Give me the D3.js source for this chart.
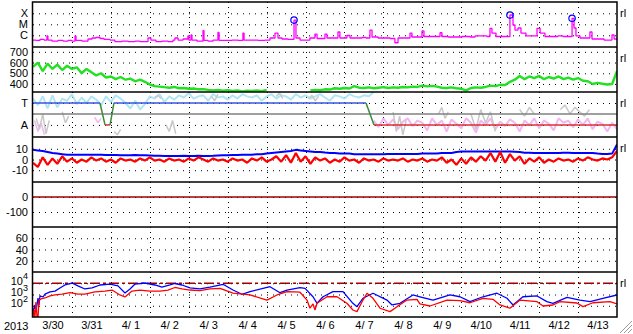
<!DOCTYPE html>
<html>
<head>
<meta charset="utf-8">
<script src="https://cdn.jsdelivr.net/npm/d3@7"></script>
<style>
  body { margin: 0; background: #fff; }
  text { font-family: 'Liberation Sans', Arial, sans-serif; font-size: 11px; fill: #000; }
</style>
</head>
<body>
<div id="chart"></div>
<script>
// ---- data (hours counted from 2013-03-30 00:00 UT) ----
const yearLabel = '2013'

// GOES x-ray flux, W/m2
const xrayHours = [0,1.8,4.3,6.8,8.6,9.2,11.7,15.4,18.5,21.6,24,25.9,26.5,30.2,33.9,36.4,38.8,41.3,43.8,47.5,50.5,54.8,58.6,62.9,66,70.9,72.7,75.8,79.5,83.2,86.3,87.5,89.4,92.5,95.5,96.1,97.4,98,101.1,104.8,105.4,107.9,111,114,114.7,118.3,122.7,126.4,129.4,130.1,133.8,138.7,143,146.1,149.2,151,153.5,157.2,159.6,160.9,162.1,164.6,167.7,170.7,173.8,175.1,178.1,180,181.2,184.9,188,189.2,193.5,195.4,199.1,202.8,205.3,207.7,209,212.7,217,220.1,223.1,225,228.7,232.4,233.6,237.3,239.8,241,244.7,248.4,250.9,252.1,255.8,260.1,264.4,269.4,272.5,276.8,279.8,281.7,282.9,285.4,289.1,292.2,294,295.9,297.1,299,300.8,303.9,307.6,310.7,312.6,315.6,319.9,323.6,326.7,329.8,332.3,333.5,334.7,337.2,340.9,343.3,344.6,348.3,352,355.7,356.9,358.2,360]
const xrayFlux = [3.7e-7,3.4e-7,4.2e-7,3.7e-7,8.7e-7,3.7e-7,3.0e-7,3.4e-7,3.0e-7,3.4e-7,3.0e-7,8.7e-7,3.4e-7,3.0e-7,4.6e-7,5.7e-7,6.3e-7,5.1e-7,4.2e-7,3.7e-7,2.7e-7,3.0e-7,2.7e-7,3.0e-7,2.7e-7,5.7e-7,3.7e-7,2.7e-7,3.0e-7,2.7e-7,3.7e-7,5.7e-7,3.7e-7,4.6e-7,8.7e-7,3.7e-7,1.07e-6,3.7e-7,3.0e-7,2.7e-6,3.4e-7,3.0e-7,3.7e-7,1.8e-6,3.4e-7,3.4e-7,3.7e-7,3.4e-7,1.6e-6,3.7e-7,3.7e-7,3.4e-7,3.7e-7,5.7e-7,1.6e-6,5.7e-7,4.6e-7,4.2e-7,4.2e-7,2.4e-5,5.7e-7,3.7e-7,3.7e-7,5.7e-7,1.3e-6,5.1e-7,5.1e-7,1.3e-6,5.7e-7,5.7e-7,2.0e-6,5.7e-7,9.6e-7,5.7e-7,5.7e-7,6.3e-7,5.7e-7,3.0e-6,7.0e-7,5.7e-7,5.7e-7,5.1e-7,2.1e-7,5.7e-7,5.7e-7,1.6e-6,7.0e-7,7.0e-7,2.5e-6,7.8e-7,7.8e-7,7.8e-7,1.7e-6,7.8e-7,7.0e-7,7.0e-7,7.8e-7,7.0e-7,8.7e-7,8.7e-7,7.8e-7,4.3e-6,1.6e-6,7.8e-7,7.8e-7,7.5e-7,7.0e-5,8.6e-6,3.0e-6,4.6e-6,1.6e-6,8.7e-7,8.7e-7,4.3e-6,1.6e-6,7.8e-7,7.8e-7,8.7e-7,7.8e-7,7.8e-7,3.5e-5,4.6e-6,8.7e-7,5.7e-7,5.7e-7,2.0e-6,4.6e-7,4.6e-7,3.7e-7,3.7e-7,1.07e-6,4.6e-7,5.7e-7]
const flareHours = [160.9, 294, 332.3]
const flareFlux = [2.4e-5, 7.0e-5, 3.5e-5]
const xrayTicks = [1e-4, 1e-5, 1e-6]
const xrayTickLabels = ['X', 'M', 'C']

// solar wind speed, km/s, every 3 hours (null = no data)
const speed = [560,600,520,590,540,580,530,570,540,555,
  500,540,510,480,500,460,470,445,465,440,
  450,425,440,420,395,380,375,370,365,372,
  360,362,355,358,350,352,345,340,345,338,
  342,335,340,330,338,335,340,332,345,
  null,null,null,null,null,null,null,null,
  340,345,342,350,348,360,355,362,358,380,
  365,362,368,360,365,370,362,368,365,372,
  368,375,372,385,378,382,375,365,362,368,
  360,355,340,362,368,365,372,385,380,392,
  390,420,440,475,445,470,455,475,445,465,
  450,470,445,460,440,455,430,425,400,410,
  402,395,400,520]
const speedTicks = [700, 600, 500, 400]

// status panel (A = 0, T = 1)
const statusHours = [0, 41.3, 44.4, 47.5, 49.9, 205.3, 210.2, 360]
const statusLevel = [1, 1, 0, 0, 1, 1, 0, 0]
const statusTicks = [1, 0]
const statusTickLabels = ['T', 'A']
const cyanLevel = [1.2,0.9,1.3,0.75,1.35,0.8,1.2,1.1,1.4,0.95,1.25,1.0,1.3,1.15,0.9,1.3,1.05,1.35,1.2,1.0,0.75,1.1,0.7,0.95,1.3,1.2,1.4,1.05,1.3,1.15,1.35,1.25,1.45,1.2,1.3,1.35,1.1,1.4,1.25,1.3,1.15,1.35,1.2,1.4,1.3,1.25,1.35,1.1,1.3,1.4,1.2,1.35,1.3,1.15,1.4,1.25,1.35,1.2,1.3,1.4,1.25,1.1,1.35,1.3,1.2,1.4,1.3,1.25,1.35,1.3,1.5]
const pinkStartHour = 210
const pinkLevel = [0.2,-0.1,0.3,0.0,0.25,-0.2,0.15,0.3,-0.05,0.2,0.1,-0.25,0.3,0.0,0.2,-0.3,0.25,0.05,-0.15,0.3,0.1,-0.35,0.2,0.0,0.3,-0.2,0.15,-0.05,0.25,0.1,-0.3,0.2,0.0,0.3,-0.15,0.2,0.05,-0.25,0.3,0.1,0.2,-0.1,0.25,0.0,0.3,-0.2,0.15,0.05,-0.3,0.1,-0.2]
const pinkBitsHours = [1,3,5,7,9,38,40,42,44]
const pinkBitsLevel = [0.2,-0.3,0.1,-0.45,null,0.35,0.1,0.3,null]
const grayHours = [2,4,6,8,10,12,18,20,22,24,50,52,54,56,75,77,79,81,82,84,86,88,90,110,112,114,116,150,152,154,156,170,172,174,176,178,222,224,226,228,230,232,250,252,254,256,258,270,273,276,279,282,285,287,300,303,306,309,311,325,328,331,334,337,340,343,345]
const grayLevel = [0.3,-0.2,0.5,-0.4,0.2,null,0.6,0.1,0.4,null,-0.3,-0.45,-0.2,null,1.25,1.35,1.2,null,0.0,-0.3,0.2,-0.4,null,1.3,1.1,1.4,null,1.3,1.45,1.2,null,1.2,1.35,1.1,1.3,null,0.6,-0.3,0.4,-0.45,0.2,null,0.5,0.8,0.3,0.6,null,0.5,-0.2,0.7,0.1,0.6,-0.3,null,0.7,0.4,0.8,0.5,null,0.7,0.9,0.5,0.8,0.6,0.4,0.7,null]

// magnetic field, nT, every 3 hours
const bt = [9,8.5,8,7,6,5.5,5,4.5,4.5,4.5,
  4.5,4.5,4.5,4.5,4.5,4.3,4.3,4.3,4,4,
  4,4.3,4,4,3.8,3.5,3.5,3.3,3.3,3.3,
  3.3,3.5,3.3,3.3,3.5,3.3,3.3,3.5,3.8,4,
  4,4.3,4.3,4.5,4.5,4.5,5,5,5.5,6,
  6.5,7,7.5,8,9,8.5,8,7.5,7,7,
  6.5,6,6,5.5,5.5,5.5,5,5,5,5,
  5,5,5,5.2,5.2,5.2,5.2,5.2,5.2,5.2,
  5.5,5.5,5.5,5.5,6,6,6,7,7.4,7.4,
  7.4,7.4,7.4,7.4,7.4,7.4,7.4,7.4,7.4,7.2,
  7,6.2,6.2,6,6,6,6,6,6,6.2,
  6.2,6,6,6,6,6,5.5,5.2,5.2,5.5,
  14]
const bz = [-3,-7,2,-5,1,-4,3,-2,1,-3,
  0,-2,2,-1,1,-2,0,-3,1,-1,
  0,-2,1,-1,2,-1,0,-2,1,-1,
  0,-2,1,-1,2,0,-2,1,-1,0,
  -2,1,-1,0,-3,1,-1,2,-2,0,
  3,-2,4,-3,6,-2,3,-4,2,-1,
  1,-3,0,-2,2,-1,0,-3,1,-1,
  0,-2,1,-1,0,-1,1,-2,0,-1,
  1,-2,0,-1,2,-3,0,-5,1,-4,
  2,-2,3,-1,6,-2,7,-3,5,-1,
  3,-4,1,-2,2,-3,0,-2,1,-1,
  0,-2,1,-1,2,0,-1,1,0,2,
  8]
const bTicks = [10, 0, -10]

const dstTicks = [0, -100]
const kpTicks = [60, 40, 20]

// electron flux
const eHighHours = [0,1.2,1.8,3.1,3.7,4.3,6.2,7.4,10.5,13.6,16.6,19.7,24,27.7,32,36.4,41.3,47.5,52.4,56.7,59.8,62.9,69,75.2,79.5,84.4,87.5,91.8,96.8,102.9,109.1,117.1,123.3,128.8,133.8,146.1,152.3,156.6,164.6,167.7,172.6,175.1,178.8,184.9,191.1,197.2,199.7,203.4,209.6,218.2,221.3,226.2,234.2,238.5,246.6,257,263.2,269.4,277.4,286,292.2,295.9,302,310.7,316.8,320.5,329.2,337.2,343.4,351.3,360]
const eHigh = [28,117,28,490,117,740,600,1100,1700,2000,3800,7000,10500,5800,3100,3800,7000,8500,5800,1350,3100,8500,10500,7000,4600,7000,9500,7000,3800,3100,4600,8100,2500,1050,1800,4900,1450,2500,4000,3500,630,165,630,1800,1800,165,83,460,1300,320,117,165,910,630,320,910,630,230,630,1300,460,117,630,740,230,165,560,320,230,460,910]
const eLowHours = [0,0.6,1.2,1.8,2.5,3.1,3.7,4.9,7.4,10.5,13.6,17.9,22.8,27.7,32,38.2,44.4,48.7,53.6,56.7,61,65.9,72.1,78.3,83.2,87.5,91.8,96.8,102.9,109.1,115.3,123.3,133.8,144.2,150.4,156.6,164.6,168.9,170.7,172.6,173.8,175.1,181.2,187.4,193.5,197.2,199.7,203.4,205.9,209.6,213.9,220.1,224.4,230.5,236.7,238.5,244.7,255.2,263.2,269.4,277.4,283.5,287.9,294,300.2,310.7,314.4,320.5,324.8,335.3,339,345.2,355.7,360]
const eLow = [10,42,10,215,10,10,320,400,490,740,910,1100,1450,1100,1100,1700,2000,2500,910,600,2000,2500,2000,2000,2500,4200,3100,2500,2200,3100,3500,1300,910,320,910,1800,1600,320,60,145,42,165,630,630,165,42,30,320,1300,460,60,30,83,320,370,145,95,320,280,185,460,370,117,60,320,230,95,117,230,175,83,185,230,145]
const eTicks = [1e4, 1e3, 1e2]
const eThreshold = 1e4

// ---- layout ----
const left = 33
const right = 617
const panelTops = [2, 47, 92, 137, 182, 227, 272]
const plotBottom = 317

const t0 = Date.UTC(2013, 2, 30)
const t1 = Date.UTC(2013, 3, 14)
const atHour = h => new Date(t0 + h * 3600e3)

const svg = d3
  .select('#chart')
  .append('svg')
  .attr('width', 633)
  .attr('height', 334)

const x = d3.scaleUtc().domain([t0, t1]).range([left, right])

const pTop = i => panelTops[i]
const pBot = i => (i < 6 ? panelTops[i + 1] : plotBottom)

const yXray = d3.scaleLog().domain([1e-7, 1e-3]).range([46.3, 2.3])
const ySpeed = d3.scaleLinear().domain([325, 745]).range([92, 47])
const yStatus = d3.scaleLinear().domain([-0.55, 1.5]).range([137, 92])
const yB = d3.scaleLinear().domain([-21, 21]).range([182, 137])
const yDst = d3.scaleLinear().domain([-200, 100]).range([227, 182])
const yKp = d3.scaleLinear().domain([0, 80]).range([272, 227])
const yE = d3.scaleLog().domain([10, 1e5]).range([317, 272])

// clip paths, one per panel
const defs = svg.append('defs')
panelTops.forEach((t, i) => {
  defs
    .append('clipPath')
    .attr('id', 'clip' + i)
    .append('rect')
    .attr('x', left)
    .attr('y', pTop(i))
    .attr('width', right - left)
    .attr('height', pBot(i) - pTop(i))
})

// vertical day grid
svg
  .append('g')
  .selectAll('line')
  .data(d3.utcDay.range(new Date(t0 + 864e5), new Date(t1)))
  .enter()
  .append('line')
  .attr('x1', d => Math.round(x(d)) + 0.5)
  .attr('x2', d => Math.round(x(d)) + 0.5)
  .attr('y1', 2)
  .attr('y2', plotBottom)
  .attr('stroke', '#000')
  .attr('stroke-dasharray', '1,4')

// y axes with dotted grid
function yAxis(scale, ticks, labels, size) {
  const axis = d3
    .axisLeft(scale)
    .tickValues(ticks)
    .tickSize(-(right - left))
    .tickPadding(5)
    .tickFormat((d, i) => (labels ? labels[i] : d))
  const g = svg
    .append('g')
    .attr('class', 'axis')
    .attr('transform', 'translate(' + left + ',0)')
    .call(axis)
  g.select('.domain').remove()
  g.selectAll('.tick line')
    .attr('stroke', '#000')
    .attr('stroke-dasharray', '1,5')
  g.selectAll('text')
    .attr('font-size', size || 11)
    .attr('font-family', "'Liberation Sans', Arial, sans-serif")
    .attr('fill', '#000')
  return g
}

yAxis(yXray, xrayTicks, xrayTickLabels)
yAxis(ySpeed, speedTicks, null, 9)
yAxis(yStatus, statusTicks, statusTickLabels)
yAxis(yB, bTicks, null, 9)
yAxis(yDst, dstTicks)
yAxis(yKp, kpTicks)
const eAxis = yAxis(yE, eTicks, eTicks.map(d => ''))
eAxis.selectAll('text').each(function(d) {
  const t = d3.select(this)
  t.append('tspan').text('10').attr('dy', '0.1em')
  t.append('tspan')
    .text(Math.round(Math.log10(d)))
    .attr('font-size', 9)
    .attr('dy', '-0.6em')
})

// helpers
const fromSteps = (vals, h0, step) => vals.map((v, i) => ({ t: atHour(h0 + i * step), v }))
const fromPairs = (hours, vals) => hours.map((h, i) => ({ t: atHour(h), v: vals[i] }))

function drawLine(data, yScale, panel, color, width, curve) {
  const line = d3
    .line()
    .defined(d => d.v !== null)
    .x(d => x(d.t))
    .y(d => yScale(d.v))
    .curve(curve || d3.curveLinear)
  svg
    .append('path')
    .datum(data)
    .attr('d', line)
    .attr('clip-path', 'url(#clip' + panel + ')')
    .attr('fill', 'none')
    .attr('stroke', color)
    .attr('stroke-width', width)
    .attr('stroke-linejoin', 'bevel')
}

function refLine(yScale, value, color, width, dash) {
  svg
    .append('line')
    .attr('x1', left)
    .attr('x2', right)
    .attr('y1', yScale(value))
    .attr('y2', yScale(value))
    .attr('stroke', color)
    .attr('stroke-width', width)
    .attr('stroke-dasharray', dash || null)
}

// panel 1: x-ray
drawLine(fromPairs(xrayHours, xrayFlux), yXray, 0, '#ff00ff', 1.3, d3.curveStepAfter)
svg
  .append('g')
  .selectAll('circle')
  .data(fromPairs(flareHours, flareFlux))
  .enter()
  .append('circle')
  .attr('cx', d => x(d.t))
  .attr('cy', d => yXray(d.v))
  .attr('r', 3.2)
  .attr('fill', 'none')
  .attr('stroke', '#0000ff')
  .attr('stroke-width', 1.2)

// panel 2: speed
drawLine(fromSteps(speed, 0, 3), ySpeed, 1, '#22e022', 2.4)

// panel 3: status
drawLine(fromSteps(cyanLevel, 0, 3), yStatus, 2, '#aee6f6', 2)
drawLine(fromSteps(pinkLevel, pinkStartHour, 3), yStatus, 2, '#f3b6f3', 2)
drawLine(fromPairs(pinkBitsHours, pinkBitsLevel), yStatus, 2, '#f3b6f3', 1.5)
drawLine(fromPairs(grayHours, grayLevel), yStatus, 2, '#c8c8c8', 1.5)
refLine(yStatus, 0.5, '#808080', 1.5)
const status = fromPairs(statusHours, statusLevel)
svg
  .append('g')
  .selectAll('line')
  .data(status.slice(1).map((d, i) => [status[i], d]))
  .enter()
  .append('line')
  .attr('x1', d => x(d[0].t))
  .attr('x2', d => x(d[1].t))
  .attr('y1', d => yStatus(d[0].v))
  .attr('y2', d => yStatus(d[1].v))
  .attr('stroke', d =>
    d[0].v !== d[1].v ? '#3a8a3a' : d[0].v === 1 ? '#3a55e0' : '#d83030'
  )
  .attr('stroke-width', 1.5)

// panel 4: magnetic field
drawLine(fromSteps(bt, 0, 3), yB, 3, '#0000ff', 2)
drawLine(fromSteps(bz, 0, 3), yB, 3, '#ff0000', 2.2)

// panel 5: reference at zero
refLine(yDst, 0, '#a00000', 1.5)

// panel 7: electrons
refLine(yE, eThreshold, '#a00000', 1.5, '10,3,3,3')
drawLine(fromPairs(eHighHours, eHigh), yE, 6, '#0000ff', 1.3)
drawLine(fromPairs(eLowHours, eLow), yE, 6, '#ff0000', 1.3)

// panel separators and frame
svg
  .append('g')
  .selectAll('line')
  .data(panelTops.slice(1))
  .enter()
  .append('line')
  .attr('x1', left)
  .attr('x2', right)
  .attr('y1', d => d)
  .attr('y2', d => d)
  .attr('stroke', '#000')
  .attr('stroke-width', 1.5)
svg
  .append('rect')
  .attr('x', left - 0.5)
  .attr('y', 2)
  .attr('width', right - left + 0.5)
  .attr('height', plotBottom - 2)
  .attr('fill', 'none')
  .attr('stroke', '#000')
  .attr('stroke-width', 1.5)

// right-hand markers
svg
  .append('g')
  .selectAll('text')
  .data([0, 1, 2, 3, 6])
  .enter()
  .append('text')
  .attr('x', 620)
  .attr('y', d => pTop(d) + 15)
  .text('rl')

// time axis
const xAxis = d3
  .axisBottom(x)
  .tickValues(d3.utcDay.range(new Date(t0), new Date(t1)).map(d => new Date(+d + 12 * 3600e3)))
  .tickFormat(d3.utcFormat('%-m/%e'))
  .tickSize(0)
  .tickPadding(4.5)
const xg = svg
  .append('g')
  .attr('transform', 'translate(0,' + plotBottom + ')')
  .call(xAxis)
xg.select('.domain').remove()
xg.selectAll('text')
  .attr('font-size', 11)
  .attr('font-family', "'Liberation Sans', Arial, sans-serif")
  .attr('fill', '#000')

svg
  .append('text')
  .attr('x', 4)
  .attr('y', 330)
  .text(yearLabel)

// corner grip
svg
  .append('g')
  .selectAll('line')
  .data([0, 4, 8])
  .enter()
  .append('line')
  .attr('x1', d => 620 + d)
  .attr('y1', 333)
  .attr('x2', 632)
  .attr('y2', d => 321 + d)
  .attr('stroke', '#999')
  .attr('stroke-width', 1)
</script>
</body>
</html>
